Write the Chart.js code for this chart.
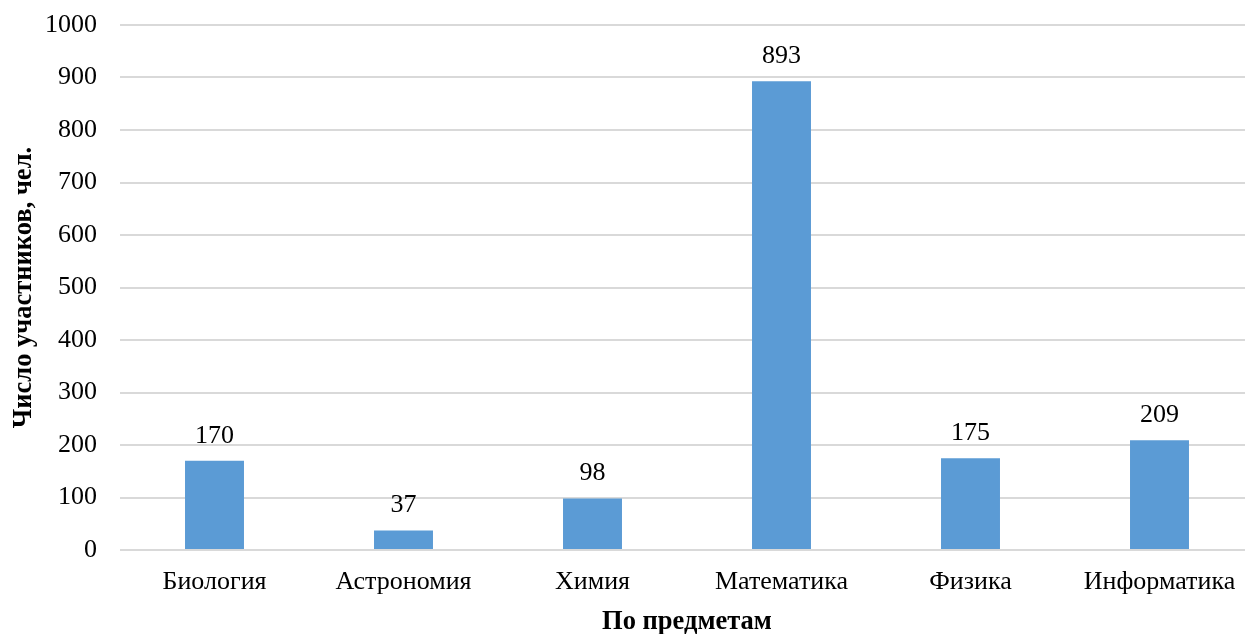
<!DOCTYPE html>
<html>
<head>
<meta charset="utf-8">
<script src="https://cdn.jsdelivr.net/npm/chart.js@4/dist/chart.umd.min.js"></script>
<style>
html,body{margin:0;padding:0;background:#fff;overflow:hidden;width:1245px;height:634px;}
#wrap{width:1260px;height:634px;}
</style>
</head>
<body>
<div id="wrap"><canvas id="c" width="1260" height="634"></canvas></div>
<script>
const categories = ["Биология","Астрономия","Химия","Математика","Физика","Информатика"];
const values = [170, 37, 98, 893, 175, 209];
const yTicks = [0,100,200,300,400,500,600,700,800,900,1000];
const yTitle = "Число участников, чел.";
const xTitle = "По предметам";

const FONT = "'Liberation Serif','Times New Roman',serif";

const labelPlugin = {
  id: 'valLabels',
  afterDatasetsDraw(chart) {
    const ctx = chart.ctx;
    const meta = chart.getDatasetMeta(0);
    ctx.save();
    ctx.font = "26px " + FONT;
    ctx.fillStyle = "#000";
    ctx.textAlign = "center";
    ctx.textBaseline = "bottom";
    meta.data.forEach((bar, i) => {
      ctx.fillText(String(values[i]), bar.x, bar.y - 12);
    });
    ctx.restore();
  }
};

new Chart(document.getElementById('c'), {
  type: 'bar',
  data: {
    labels: categories,
    datasets: [{
      data: values,
      backgroundColor: '#5B9BD5',
      borderWidth: 0,
      barPercentage: 0.312,
      categoryPercentage: 1.0
    }]
  },
  options: {
    responsive: false,
    animation: false,
    devicePixelRatio: 1,
    layout: { padding: { left: 0, right: 6, top: 25, bottom: 0 } },
    plugins: { legend: { display: false }, tooltip: { enabled: false } },
    scales: {
      x: {
        grid: { display: false, drawTicks: false },
        border: { display: false },
        ticks: { color: '#000', font: { family: FONT, size: 26 }, padding: 17, maxRotation: 0, autoSkip: false },
        title: { display: true, text: xTitle, color: '#000', font: { family: FONT, size: 26.5, weight: 'bold' }, padding: { top: 4, bottom: -4 } },
        afterFit(scale) { scale.height = 84; scale.paddingLeft = 0; scale.paddingRight = 0; }
      },
      y: {
        min: 0, max: 1000,
        afterBuildTicks(scale) { scale.ticks = yTicks.map(v => ({ value: v })); },
        grid: { color: '#D9D9D9', lineWidth: 2, drawTicks: false },
        border: { display: false },
        ticks: { color: '#000', font: { family: FONT, size: 26 }, padding: 23, callback: (v) => String(v) },
        title: { display: true, text: yTitle, color: '#000', font: { family: FONT, size: 26.5, weight: 'bold' }, padding: { top: 8, bottom: 0 } },
        afterFit(scale) { scale.width = 120; scale.paddingTop = 0; scale.paddingBottom = 0; }
      }
    }
  },
  plugins: [labelPlugin]
});
</script>
</body>
</html>
